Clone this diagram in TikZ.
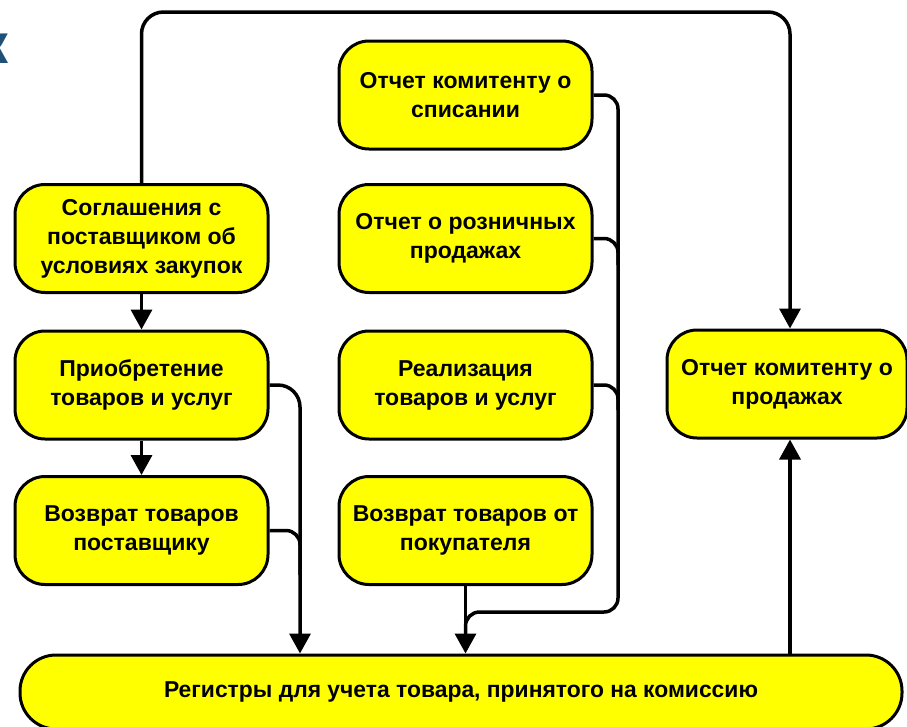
\documentclass[tikz,border=0pt]{standalone}
\usepackage{fontspec}
\setmainfont{Liberation Sans}
\usetikzlibrary{arrows.meta}
\definecolor{boxfill}{RGB}{255,255,0}
\definecolor{headblue}{RGB}{30,80,120}
\begin{document}
\begin{tikzpicture}[x=1pt,y=-1pt,
  box/.style={draw=black, line width=3pt, fill=boxfill, rounded corners=30pt,
    minimum width=253pt, minimum height=108pt, align=center, inner sep=0pt,
    font=\bfseries\fontsize{23}{29}\selectfont},
  flow/.style={line width=3.5pt, rounded corners=22pt,
    -{Triangle[width=21pt,length=20pt]}},
  joinline/.style={line width=3.5pt, rounded corners=14pt}]
\useasboundingbox (0,0) rectangle (907,726);

% partly visible heading letter at the left edge
\node[text=headblue, font=\bfseries\fontsize{56}{56}\selectfont, anchor=base east, inner sep=0pt] (head) at (9,63) {к};

% boxes
\node[box] (sogl) at (141.5,238.5) {Соглашения с\\поставщиком об\\условиях закупок};
\node[box] (prio) at (141.5,385) {Приобретение\\товаров и услуг};
\node[box] (vozp) at (141.5,530.5) {Возврат товаров\\поставщику};
\node[box] (spis) at (465.5,95) {Отчет комитенту о\\списании};
\node[box] (rozn) at (465.5,238.5) {Отчет о розничных\\продажах};
\node[box] (real) at (465.5,385) {Реализация\\товаров и услуг};
\node[box] (vpok) at (465.5,530.5) {Возврат товаров от\\покупателя};
\node[box, minimum width=240pt] (otch) at (787,384) {Отчет комитенту о\\продажах};
\node[box, minimum width=882pt, minimum height=74pt, rounded corners=36pt] (reg) at (461,692)
  {\resizebox{594pt}{\height}{Регистры для учета товара, принятого на комиссию}};

% routing points
\coordinate (tr) at (790,12);
\coordinate (lx) at (300,0);
\coordinate (lj) at (300,575);
\coordinate (mb) at (618,612);
\coordinate (mj) at (465.5,645);
\coordinate (m1) at (618,265);
\coordinate (m2) at (618,410);

% connectors
\draw[flow] (sogl.north) |- (tr) -- (tr |- otch.north);
\draw[flow] (reg.north -| tr) -- (otch.south -| tr);
\draw[flow] (sogl) -- (prio);
\draw[flow] (prio) -- (vozp);
\draw[flow] (prio.east) -| (reg.north -| lx);
\draw[joinline] (vozp.east) -| (lj);
\draw[joinline] (spis.east) -| (mb) -| (mj);
\draw[joinline] (rozn.east) -| (m1);
\draw[joinline] (real.east) -| (m2);
\draw[flow] (vpok.south) -- (vpok.south |- reg.north);
\end{tikzpicture}
\end{document}
